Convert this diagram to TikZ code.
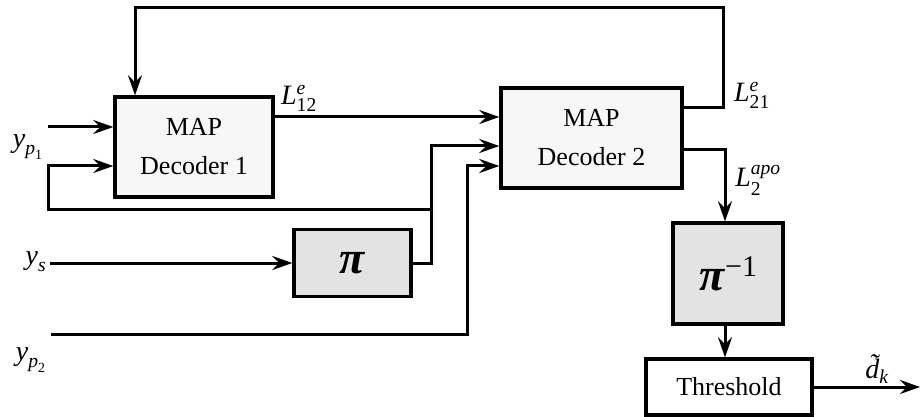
\documentclass[tikz,border=0pt]{standalone}
\usepackage{amsmath}
\usepackage{fontspec}
\setmainfont{Liberation Serif}
\usetikzlibrary{arrows.meta}
\begin{document}
\begin{tikzpicture}[x=1pt,y=-1pt,
  wire/.style={line width=3pt},
  arr/.style={wire,-{Stealth[length=20pt,width=14pt,inset=7pt]}},
  blk/.style={draw,line width=3.4pt,inner sep=0pt,align=center,font=\fontsize{26}{39}\selectfont},
  lbl/.style={inner sep=0pt,font=\fontsize{28}{32}\selectfont}]
\useasboundingbox (0,0) rectangle (922,417);
% blocks
\node[blk,fill=gray!6,minimum width=158pt,minimum height=100pt] (dec1) at (194,147) {MAP\\Decoder 1};
\node[blk,fill=gray!6,minimum width=181pt,minimum height=100pt] (dec2) at (591.5,138) {MAP\\Decoder 2};
\node[blk,fill=gray!22,minimum width=117pt,minimum height=67pt] (pi) at (352.5,263) {\fontsize{46}{46}\selectfont\textbf{\textit{π}}};
\node[blk,fill=gray!22,minimum width=110pt,minimum height=101pt] (pinv) at (728,273.5) {\fontsize{46}{46}\selectfont\textbf{\textit{π}}\raisebox{14pt}{\fontsize{30}{30}\selectfont −1}};
\node[blk,fill=white,minimum width=166pt,minimum height=56pt] (thr) at (729,387) {Threshold};
% labels
\node[lbl] (yp1) at (28,147) {$\textit{y}_{\textit{p}_{\text{1}}}$};
\node[lbl] (ys) at (36,262) {$\textit{y}_{\textit{s}}$};
\node[lbl] (yp2) at (31,360) {$\textit{y}_{\textit{p}_{\text{2}}}$};
\node[lbl] (l12) at (299,98) {$\textit{L}^{\textit{e}}_{\text{12}}$};
\node[lbl] (l21) at (752,95) {$\textit{L}^{\textit{e}}_{\text{21}}$};
\node[lbl] (l2) at (758,180) {$\textit{L}^{\textit{apo}}_{\text{2}}$};
\node[lbl] (dk) at (877,369) {$\textit{\~{d}}_{\textit{k}}$};
% coordinates
\coordinate (in1) at (48,127);
\coordinate (fbl) at (48,210);
\coordinate (fbin) at (48,166);
\coordinate (jx) at (431,210);
\coordinate (jtop) at (431,146);
\coordinate (ysin) at (50,263);
\coordinate (p2in) at (51,334);
\coordinate (p2c) at (467,334);
\coordinate (p2top) at (467,166);
\coordinate (o21) at (723,108);
\coordinate (top1) at (723,8);
\coordinate (top2) at (135,8);
\coordinate (oapo) at (725,150);
\coordinate (out) at (920,387);
% connectors
\draw[arr] (in1) -- (in1 -| dec1.west);
\draw[arr] (jx) -- (fbl) -- (fbin) -- (fbin -| dec1.west);
\draw[arr] (dec1.east |- 0,117) -- (dec2.west |- 0,117);
\draw[arr] (pi.east) -- (pi.east -| jx) -- (jtop) -- (jtop -| dec2.west);
\draw[arr] (ysin) -- (pi.west);
\draw[arr] (p2in) -- (p2c) -- (p2top) -- (p2top -| dec2.west);
\draw[arr] (dec2.east |- o21) -- (o21) -- (top1) -- (top2) -- (top2 |- dec1.north);
\draw[arr] (dec2.east |- oapo) -- (oapo) -- (oapo |- pinv.north);
\draw[arr] (pinv.south -| oapo) -- (oapo |- thr.north);
\draw[arr] (thr.east) -- (out);
\end{tikzpicture}
\end{document}
